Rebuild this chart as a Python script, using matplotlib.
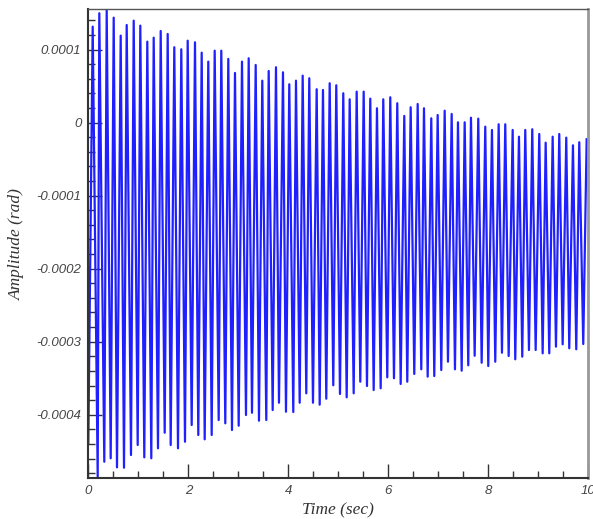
import numpy as np
import matplotlib
matplotlib.use("Agg")
import matplotlib.pyplot as plt
from matplotlib.ticker import MultipleLocator

# upper extremes of the response (time in s, amplitude in rad)
peak_t = [0.088, 0.22, 0.368, 0.508, 0.648, 0.768, 0.908, 1.04, 1.18, 1.308,
          1.448, 1.588, 1.72, 1.86, 1.988, 2.134, 2.268, 2.4, 2.528, 2.66,
          2.8, 2.934, 3.074, 3.208, 3.348, 3.48, 3.608, 3.754, 3.894, 4.02,
          4.154, 4.288, 4.42, 4.568, 4.694, 4.828, 4.96, 5.1, 5.228, 5.368,
          5.508, 5.64, 5.774, 5.9, 6.04, 6.18, 6.32, 6.448, 6.588, 6.714,
          6.86, 6.988, 7.128, 7.268, 7.394, 7.528, 7.654, 7.8, 7.94, 8.074,
          8.208, 8.34, 8.488, 8.614, 8.74, 8.88, 9.02, 9.148, 9.288, 9.42,
          9.56, 9.694, 9.82, 9.968]
peak_v = [1.315, 1.499, 1.544, 1.438, 1.192, 1.338, 1.397, 1.329, 1.110, 1.164,
          1.256, 1.215, 1.033, 1.005, 1.123, 1.101, 0.959, 0.836, 0.986, 0.986,
          0.873, 0.681, 0.836, 0.882, 0.790, 0.575, 0.708, 0.759, 0.690, 0.526,
          0.575, 0.644, 0.608, 0.458, 0.448, 0.540, 0.512, 0.403, 0.320, 0.425,
          0.425, 0.329, 0.197, 0.320, 0.348, 0.266, 0.092, 0.211, 0.256, 0.197,
          0.060, 0.105, 0.164, 0.119, 0.005, 0.005, 0.068, 0.055, -0.055, -0.100,
          -0.022, -0.022, -0.100, -0.192, -0.100, -0.090, -0.155, -0.274, -0.192, -0.155,
          -0.205, -0.310, -0.268, -0.227]

# lower extremes
trough_t = [0.0, 0.188, 0.32, 0.448, 0.574, 0.714, 0.854, 0.988, 1.12, 1.26,
            1.394, 1.528, 1.648, 1.794, 1.934, 2.068, 2.2, 2.328, 2.468, 2.608,
            2.74, 2.874, 3.008, 3.154, 3.274, 3.414, 3.56, 3.688, 3.814, 3.954,
            4.1, 4.228, 4.36, 4.494, 4.628, 4.76, 4.9, 5.034, 5.168, 5.308,
            5.44, 5.574, 5.708, 5.848, 5.98, 6.114, 6.248, 6.38, 6.52, 6.66,
            6.788, 6.92, 7.06, 7.194, 7.334, 7.468, 7.6, 7.728, 7.868, 8.0,
            8.14, 8.274, 8.408, 8.54, 8.68, 8.814, 8.948, 9.088, 9.22, 9.354,
            9.488, 9.62, 9.76, 9.9]
trough_v = [-4.40, -4.849, -4.644, -4.597, -4.721, -4.726, -4.552, -4.415, -4.584, -4.597,
            -4.460, -4.247, -4.415, -4.460, -4.370, -4.141, -4.278, -4.337, -4.278, -4.073,
            -4.118, -4.210, -4.151, -4.004, -3.973, -4.082, -4.073, -3.936, -3.836, -3.959,
            -3.963, -3.836, -3.707, -3.836, -3.863, -3.781, -3.597, -3.716, -3.762, -3.707,
            -3.548, -3.607, -3.662, -3.638, -3.488, -3.501, -3.579, -3.548, -3.442, -3.378,
            -3.479, -3.470, -3.388, -3.274, -3.378, -3.397, -3.323, -3.192, -3.288, -3.333,
            -3.274, -3.151, -3.196, -3.241, -3.205, -3.114, -3.114, -3.159, -3.159, -3.068,
            -3.036, -3.090, -3.104, -3.032]

xticks = [0, 2, 4, 6, 8, 10]
yticks = [0.0001, 0, -0.0001, -0.0002, -0.0003, -0.0004]
ytick_labels = ["0.0001", "0", "-0.0001", "-0.0002", "-0.0003", "-0.0004"]

t = np.array(peak_t + trough_t)
v = np.array(peak_v + trough_v) * 1e-4
order = np.argsort(t)
t, v = t[order], v[order]

fig = plt.figure(figsize=(5.93, 5.19), dpi=100)
ax = fig.add_axes([0.1489, 0.0784, 0.8431, 0.9043])

ax.plot(t, v, color="#1f1fff", linewidth=1.6, solid_joinstyle="round")

ax.set_xlim(0, 10)
ax.set_ylim(-4.871e-4, 1.557e-4)

ax.set_xticks(xticks)
ax.set_xticklabels([str(x) for x in xticks])
ax.set_yticks(yticks)
ax.set_yticklabels(ytick_labels)
ax.xaxis.set_minor_locator(MultipleLocator(0.5))
ax.yaxis.set_minor_locator(MultipleLocator(0.00002))

ax.tick_params(which="both", direction="in", colors="#333333",
               top=False, right=False)
ax.tick_params(which="major", length=10, width=1.0, pad=5)
ax.tick_params(which="minor", length=5, width=1.0)
for lab in ax.get_xticklabels() + ax.get_yticklabels():
    lab.set_family("Liberation Sans")
    lab.set_style("italic")
    lab.set_fontsize(9.5)
    lab.set_color("#444444")

ax.spines["left"].set_color("#333333")
ax.spines["bottom"].set_color("#333333")
ax.spines["left"].set_linewidth(1.5)
ax.spines["bottom"].set_linewidth(1.5)
ax.spines["top"].set_color("#555555")
ax.spines["top"].set_linewidth(1.0)
ax.spines["right"].set_color("#999999")
ax.spines["right"].set_linewidth(2.0)

ax.set_xlabel("Time (sec)", family="Liberation Serif", style="italic",
              fontsize=12.5, color="#333333", labelpad=4)
ax.set_ylabel("Amplitude (rad)", family="Liberation Serif", style="italic",
              fontsize=12.5, color="#333333", labelpad=8)

fig.savefig("out.png", dpi=100)
